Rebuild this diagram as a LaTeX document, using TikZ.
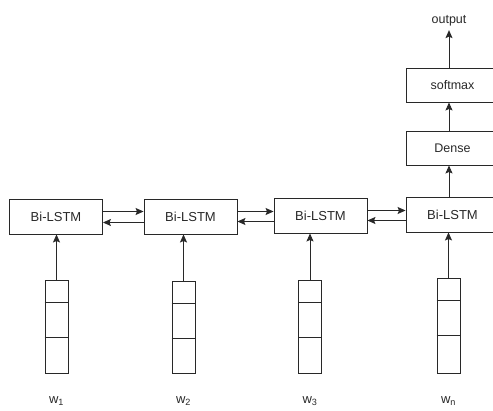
\documentclass[tikz,border=0pt]{standalone}
\usepackage{fontspec}
\setmainfont{Liberation Sans}
\usetikzlibrary{arrows.meta,positioning,calc}
\definecolor{InkGray}{RGB}{40, 40, 40}

\begin{document}
\begin{tikzpicture}[x=1pt, y=-1pt, line width=0.9pt, draw=InkGray,
    layer/.style={draw, rectangle, minimum width=93pt, minimum height=35pt, inner sep=0pt, font=\fontsize{13}{15}\selectfont, text=InkGray},
    cell/.style={draw, rectangle, minimum width=23pt, minimum height=93pt, inner sep=0pt},
    arr/.style={-{Stealth[length=8pt,width=7pt,inset=1.5pt]}}]
\useasboundingbox (0,0) rectangle (493,410);

% Bi-LSTM layers
\node[layer] (b1) at (56,216.5) {Bi-LSTM};
\node[layer] (b2) at (190.5,216.5) {Bi-LSTM};
\node[layer] (b3) at (320.5,215.5) {Bi-LSTM};
\node[layer] (b4) at (452.5,214.5) {Bi-LSTM};

% Top layers
\node[layer, minimum height=34pt, font=\fontsize{12.5}{15}\selectfont] (dense) at (452.5,148) {Dense};
\node[layer, minimum height=34pt, font=\fontsize{12.5}{15}\selectfont] (soft) at (452.5,85) {softmax};
\node[text=InkGray, font=\fontsize{12.5}{14}\selectfont] (out) at (449,21) {output};
\coordinate (spine) at (449,0);

% Forward and backward connections
\foreach \a/\b in {b1/b2, b2/b3, b3/b4} {
  \draw[arr] ([yshift=5pt]\a.east) -- ([yshift=5pt]\a.east -| \b.west);
  \draw[arr] ([yshift=-6pt]\b.west) -- ([yshift=-6pt]\b.west -| \a.east);
}

% Word vectors
\foreach \n/\x/\t/\w in {1/56.5/280/1, 2/183.5/281/2, 3/310/280/3, 4/448.5/278/n} {
  \node[cell, minimum height=373-\t] (v\n) at (\x,{(\t+373)/2}) {};
  \draw (v\n.north west) ++(0,23) -- ++(23,0);
  \draw (v\n.north west) ++(0,58) -- ++(23,0);
  \node[text=InkGray, font=\fontsize{13}{15}\selectfont] (w\n) at (\x,401) {w\textsubscript{\w}};
  \draw[arr] (v\n.north) -- (v\n.north |- b\n.south);
}

% Output path
\draw[arr] (spine |- b4.north) -- (spine |- dense.south);
\draw[arr] (spine |- dense.north) -- (spine |- soft.south);
\draw[arr] (spine |- soft.north) -- (out.south);
\end{tikzpicture}
\end{document}
